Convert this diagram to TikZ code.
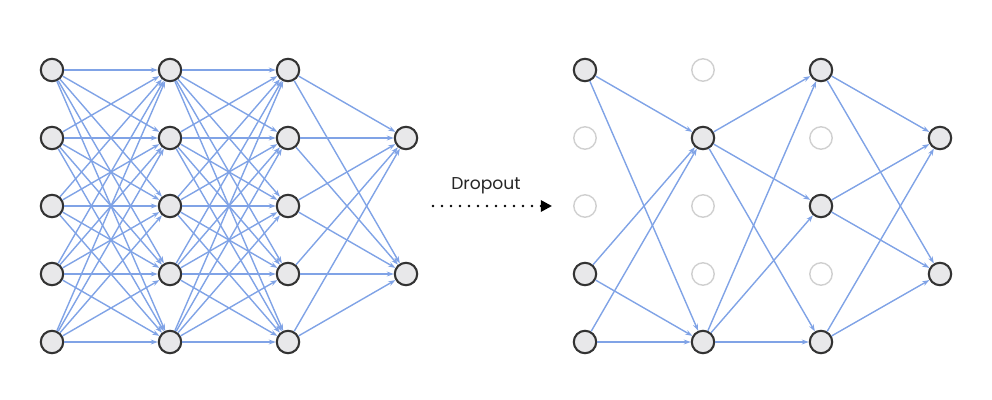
\documentclass[tikz,border=0pt]{standalone}
\usepackage{fontspec}
\setmainfont{Poppins}
\usetikzlibrary{arrows.meta}
\definecolor{edgeblue}{HTML}{80A3E6}
\definecolor{nodegray}{HTML}{E8E8EA}
\definecolor{dropgray}{HTML}{D0D0D0}

\begin{document}
\begin{tikzpicture}[x=0.025cm,y=-0.025cm,
  neuron/.style={circle,draw=black!80,fill=nodegray,line width=1.5pt,minimum size=0.56cm,inner sep=0pt},
  dropped/.style={circle,draw=dropgray,fill=white,line width=1pt,minimum size=0.56cm,inner sep=0pt},
  link/.style={draw=edgeblue,line width=1pt,-{Stealth[length=5pt,width=3.5pt]}}]

\useasboundingbox (0,0) rectangle (992,400);

%full network
\foreach \i in {1,...,5} {
  \node[neuron] (x\i) at (52, 70+68*\i-68) {};
  \node[neuron] (h\i) at (170, 70+68*\i-68) {};
  \node[neuron] (g\i) at (288, 70+68*\i-68) {};
}
\node[neuron] (y2) at (406, 138) {};
\node[neuron] (y4) at (406, 274) {};

\foreach \i in {1,...,5} {
  \foreach \j in {1,...,5} {
    \draw[link] (x\i) -- (h\j);
    \draw[link] (h\i) -- (g\j);
  }
  \draw[link] (g\i) -- (y2);
  \draw[link] (g\i) -- (y4);
}

%dropout arrow
\coordinate (dstart) at (433, 206);
\coordinate (dend) at (552, 206);
\draw[line width=1.9pt, line cap=round, dash pattern=on 0pt off 6.4pt, -{Triangle[length=8pt,width=8pt]}] (dstart) -- (dend);
\node[font=\fontsize{12.2}{14}\selectfont, text=black!85] (lbl) at (486, 186) {Dropout};

%thinned network
\node[neuron] (a1) at (585, 70) {};
\node[dropped] (a2) at (585, 138) {};
\node[dropped] (a3) at (585, 206) {};
\node[neuron] (a4) at (585, 274) {};
\node[neuron] (a5) at (585, 342) {};

\node[dropped] (b1) at (703, 70) {};
\node[neuron] (b2) at (703, 138) {};
\node[dropped] (b3) at (703, 206) {};
\node[dropped] (b4) at (703, 274) {};
\node[neuron] (b5) at (703, 342) {};

\node[neuron] (c1) at (821, 70) {};
\node[dropped] (c2) at (821, 138) {};
\node[neuron] (c3) at (821, 206) {};
\node[dropped] (c4) at (821, 274) {};
\node[neuron] (c5) at (821, 342) {};

\node[neuron] (d2) at (940, 138) {};
\node[neuron] (d4) at (940, 274) {};

\foreach \i in {1,4,5} {
  \draw[link] (a\i) -- (b2);
  \draw[link] (a\i) -- (b5);
}
\foreach \i in {2,5} {
  \foreach \j in {1,3,5} {
    \draw[link] (b\i) -- (c\j);
  }
}
\foreach \i in {1,3,5} {
  \draw[link] (c\i) -- (d2);
  \draw[link] (c\i) -- (d4);
}

\end{tikzpicture}
\end{document}
